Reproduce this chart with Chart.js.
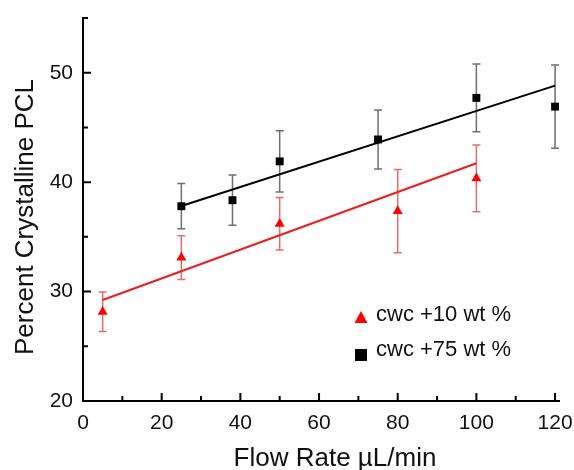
<!DOCTYPE html>
<html>
<head>
<meta charset="utf-8">
<script src="https://cdn.jsdelivr.net/npm/chart.js@4.4.1/dist/chart.umd.min.js"></script>
<style>
  html, body { margin: 0; padding: 0; background: #fff; }
  #wrap { width: 574px; height: 470px; position: relative; }
</style>
</head>
<body>
<div id="wrap"><canvas id="chart"></canvas></div>
<script>
// =========================
// Data
// =========================
const seriesNames = ["cwc +10 wt %", "cwc +75 wt %"];

const flowRed = [5, 25, 50, 80, 100];
const crystRed = [28.15, 33.1, 36.2, 37.35, 40.35];
const errRed = [1.8, 2.0, 2.4, 3.8, 3.05];

const flowBlack = [25, 38, 50, 75, 100, 120];
const crystBlack = [37.8, 38.35, 41.9, 43.9, 47.7, 46.9];
const errBlack = [2.07, 2.3, 2.8, 2.7, 3.1, 3.8];

// linear fit end points
const fitRedX = [5, 100];
const fitRedY = [29.23, 41.73];
const fitBlackX = [25, 120];
const fitBlackY = [37.82, 48.82];

const xTicks = [0, 20, 40, 60, 80, 100, 120];
const yTicks = [20, 30, 40, 50];

const xTitle = "Flow Rate \u00b5L/min";
const yTitle = "Percent Crystalline PCL";

const FONT = "'Liberation Sans', Arial, sans-serif";

function toPoints(xs, ys) {
  return xs.map((x, i) => ({ x: x, y: ys[i] }));
}

// =========================
// Plugins
// =========================
const errorBars = {
  id: "errorBars",
  beforeDatasetsDraw(chart) {
    const ctx = chart.ctx;
    const xs = chart.scales.x;
    const ys = chart.scales.y;
    const sets = [
      { x: flowBlack, y: crystBlack, e: errBlack, color: "#6f6f6f" },
      { x: flowRed, y: crystRed, e: errRed, color: "#e86b6b" },
    ];
    ctx.save();
    ctx.lineWidth = 1.5;
    sets.forEach((s) => {
      ctx.strokeStyle = s.color;
      s.x.forEach((xv, i) => {
        const px = xs.getPixelForValue(xv);
        const top = ys.getPixelForValue(s.y[i] + s.e[i]);
        const bot = ys.getPixelForValue(s.y[i] - s.e[i]);
        ctx.beginPath();
        ctx.moveTo(px, top);
        ctx.lineTo(px, bot);
        ctx.moveTo(px - 4, top);
        ctx.lineTo(px + 4, top);
        ctx.moveTo(px - 4, bot);
        ctx.lineTo(px + 4, bot);
        ctx.stroke();
      });
    });
    ctx.restore();
  },
};

const decorations = {
  id: "decorations",
  afterDraw(chart) {
    const ctx = chart.ctx;
    const xs = chart.scales.x;
    const ys = chart.scales.y;
    const area = chart.chartArea;
    ctx.save();
    ctx.strokeStyle = "#000";
    ctx.lineWidth = 2;

    // inward tick marks
    ctx.beginPath();
    for (let v = 0; v <= 120; v += 10) {
      const px = xs.getPixelForValue(v);
      const len = v % 20 === 0 ? 8 : 5;
      ctx.moveTo(px, area.bottom);
      ctx.lineTo(px, area.bottom - len);
    }
    for (let v = 25; v <= 55; v += 5) {
      const py = ys.getPixelForValue(v);
      const len = v % 10 === 0 ? 8 : 5;
      ctx.moveTo(area.left, py);
      ctx.lineTo(area.left + len, py);
    }
    ctx.stroke();

    // axis titles
    ctx.fillStyle = "#111";
    ctx.font = "26px " + FONT;
    ctx.textAlign = "center";
    ctx.textBaseline = "alphabetic";
    ctx.fillText(xTitle, 335, 466);
    ctx.translate(33, 217);
    ctx.rotate(-Math.PI / 2);
    ctx.fillText(yTitle, 0, 0);
    ctx.restore();

    // legend
    ctx.save();
    ctx.font = "22px " + FONT;
    ctx.textAlign = "left";
    ctx.textBaseline = "alphabetic";
    ctx.fillStyle = "#ff0000";
    ctx.beginPath();
    ctx.moveTo(361, 311);
    ctx.lineTo(367.5, 323);
    ctx.lineTo(354.5, 323);
    ctx.closePath();
    ctx.fill();
    ctx.fillStyle = "#000";
    ctx.fillRect(355, 349, 12, 12);
    ctx.fillStyle = "#111";
    ctx.fillText(seriesNames[0], 376, 321);
    ctx.fillText(seriesNames[1], 376, 356);
    ctx.restore();
  },
};

// =========================
// Chart
// =========================
const ctx = document.getElementById("chart").getContext("2d");

new Chart(ctx, {
  type: "scatter",
  data: {
    datasets: [
      {
        label: seriesNames[1] + " fit",
        type: "line",
        data: toPoints(fitBlackX, fitBlackY),
        borderColor: "#000",
        borderWidth: 2,
        pointRadius: 0,
        fill: false,
      },
      {
        label: seriesNames[0] + " fit",
        type: "line",
        data: toPoints(fitRedX, fitRedY),
        borderColor: "#ee1c1c",
        borderWidth: 2,
        pointRadius: 0,
        fill: false,
      },
      {
        label: seriesNames[1],
        data: toPoints(flowBlack, crystBlack),
        pointStyle: "rect",
        pointRadius: 5.6,
        backgroundColor: "#000",
        borderColor: "#000",
        borderWidth: 0,
      },
      {
        label: seriesNames[0],
        data: toPoints(flowRed, crystRed),
        pointStyle: "triangle",
        pointRadius: 5.8,
        backgroundColor: "#ff0000",
        borderColor: "#ff0000",
        borderWidth: 0,
      },
    ],
  },
  options: {
    responsive: true,
    maintainAspectRatio: false,
    animation: false,
    events: [],
    layout: { padding: { top: 18, right: 15, left: 0, bottom: 0 } },
    plugins: {
      legend: { display: false },
      tooltip: { enabled: false },
    },
    scales: {
      x: {
        type: "linear",
        min: 0,
        max: 121,
        afterBuildTicks: (scale) => {
          scale.ticks = xTicks.map((v) => ({ value: v }));
        },
        afterFit: (scale) => {
          scale.height = 69;
          scale.paddingLeft = 0;
          scale.paddingRight = 0;
        },
        grid: { display: false, drawTicks: false },
        border: { display: true, color: "#000", width: 2 },
        ticks: {
          padding: 10,
          color: "#111",
          maxRotation: 0,
          font: { family: FONT, size: 21 },
        },
      },
      y: {
        type: "linear",
        min: 20,
        max: 55,
        afterBuildTicks: (scale) => {
          scale.ticks = yTicks.map((v) => ({ value: v }));
        },
        afterFit: (scale) => {
          scale.width = 83;
          scale.paddingTop = 0;
          scale.paddingBottom = 0;
        },
        grid: { display: false, drawTicks: false },
        border: { display: true, color: "#000", width: 2 },
        ticks: {
          padding: 10,
          color: "#111",
          font: { family: FONT, size: 21 },
        },
      },
    },
  },
  plugins: [errorBars, decorations],
});
</script>
</body>
</html>
